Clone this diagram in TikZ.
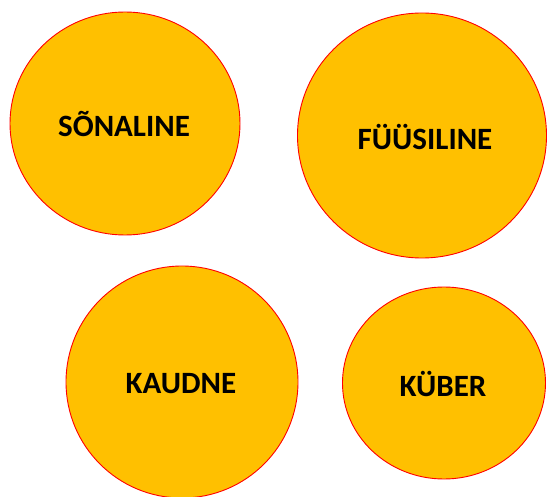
\documentclass[tikz,border=0pt]{standalone}
\usepackage{fontspec}
\setmainfont{Carlito}
\definecolor{gold}{HTML}{FFC000}
\begin{document}
\begin{tikzpicture}[x=1pt,y=-1pt,
  blob/.style={fill=gold,draw=red,line width=0.9pt},
  lbl/.style={font=\fontsize{31}{36}\selectfont\bfseries,text=black,inner sep=0pt,anchor=center}]
\useasboundingbox (0,0) rectangle (547,497);
\fill[white] (0,0) rectangle (547,497);
\path[blob] (125,123.5) ellipse [x radius=115, y radius=111.5];
\path[blob] (422,135.5) ellipse [x radius=124.5, y radius=122.5];
\path[blob] (182,382) ellipse [x radius=116, y radius=116];
\path[blob] (444,383) ellipse [x radius=101.5, y radius=96];
\node[lbl] (s) at (124,124) {SÕNALINE};
\node[lbl] (f) at (425,137) {FÜÜSILINE};
\node[lbl] (k) at (181,384) {KAUDNE};
\node[lbl] (b) at (443,384) {KÜBER};
\end{tikzpicture}
\end{document}
